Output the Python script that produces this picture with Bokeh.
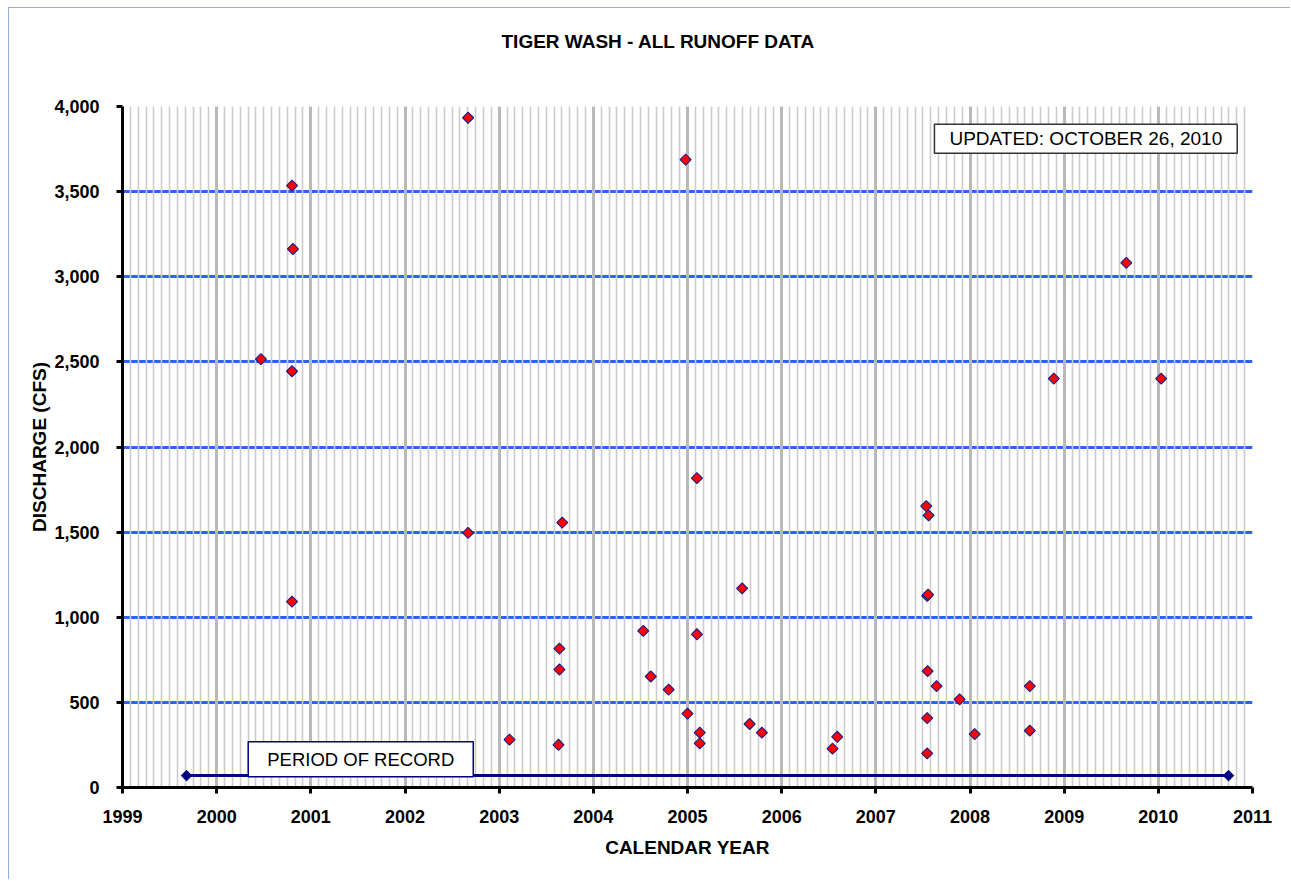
import math
from bokeh.plotting import figure
from bokeh.models import (FixedTicker, NumeralTickFormatter, PrintfTickFormatter, Label,
                          Range1d, Title)
from bokeh.embed import file_html
from bokeh.resources import INLINE

# ---------------- data ----------------
title_text = "TIGER WASH - ALL RUNOFF DATA"
x_label = "CALENDAR YEAR"
y_label = "DISCHARGE (CFS)"
updated_text = "UPDATED: OCTOBER 26, 2010"
period_text = "PERIOD OF RECORD"

year_ticks = list(range(1999, 2012))
discharge_ticks = list(range(0, 4001, 500))

# runoff events (decimal calendar year, discharge cfs)
event_year = [2000.47, 2000.80, 2000.81, 2000.80, 2000.80,
              2002.67, 2002.67, 2003.11, 2003.64, 2003.64,
              2003.63, 2003.67, 2004.53, 2004.61, 2004.80,
              2004.98, 2005.00, 2005.10, 2005.10, 2005.13,
              2005.13, 2005.58, 2005.66, 2005.79, 2006.54,
              2006.59, 2007.535, 2007.56, 2007.545, 2007.555,
              2007.55, 2007.645, 2007.545, 2007.545, 2007.89,
              2008.05, 2008.635, 2008.635, 2008.89, 2009.66,
              2010.03]
event_cfs = [2516, 3535, 3163, 2445, 1092,
             3934, 1496, 281, 816, 693,
             251, 1556, 920, 652, 575,
             3688, 434, 1817, 900, 322,
             259, 1170, 373, 322, 228,
             298, 1653, 1598, 1125, 1133,
             683, 596, 408, 200, 518,
             314, 596, 334, 2402, 3082,
             2402]

period_year = [1999.68, 2010.745]
period_cfs = [70, 70]

FONT = "Liberation Sans"

p = figure(width=1282, height=872,
           x_range=Range1d(1999, 2011), y_range=Range1d(0, 4000),
           output_backend="svg", toolbar_location=None, tools="",
           min_border_left=114, min_border_right=38,
           min_border_top=99, min_border_bottom=92,
           background_fill_color="white", border_fill_color="white",
           outline_line_color=None,
           styles={"margin-left": "8px", "margin-top": "7px",
                   "outline": "2px solid #6a96d4", "outline-offset": "-2px"})

# ---------------- title (spacer panel next to the frame, title above it) ----------------
p.title.text = ""
p.add_layout(Title(text=" ", text_font_size="10px", standoff=40), "above")
p.add_layout(Title(text=title_text, align="left", offset=379, vertical_align="top",
                   standoff=0, text_font=FONT, text_font_style="bold",
                   text_font_size="19px", text_color="black"), "above")

# ---------------- axes ----------------
month_ticks = [year_ticks[0] + m / 12.0 for m in range(0, 12 * (len(year_ticks) - 1) + 1)]
p.xaxis.ticker = FixedTicker(ticks=year_ticks, minor_ticks=month_ticks)
p.xaxis.formatter = PrintfTickFormatter(format="%d")
p.yaxis.ticker = FixedTicker(ticks=discharge_ticks)
p.yaxis.formatter = NumeralTickFormatter(format="0,0")

for ax in (p.xaxis[0], p.yaxis[0]):
    ax.axis_line_color = "black"
    ax.axis_line_width = 3
    ax.major_tick_line_color = "black"
    ax.major_tick_line_width = 3
    ax.major_tick_in = 0
    ax.major_tick_out = 6
    ax.minor_tick_line_color = None
    ax.major_label_text_font = FONT
    ax.major_label_text_font_style = "bold"
    ax.major_label_text_font_size = "18px"
    ax.major_label_text_color = "black"
    ax.axis_label_text_font = FONT
    ax.axis_label_text_font_style = "bold"
    ax.axis_label_text_font_size = "19px"
    ax.axis_label_text_color = "black"

p.xaxis.axis_label = x_label
p.yaxis.axis_label = y_label
p.xaxis.major_label_standoff = 16
p.yaxis.major_label_standoff = 17
p.xaxis.axis_label_standoff = 11
p.yaxis.axis_label_standoff = 1

# ---------------- grids ----------------
xg = p.xgrid[0]
yg = p.ygrid[0]
xg.ticker = FixedTicker(ticks=year_ticks, minor_ticks=month_ticks)
xg.grid_line_color = "#b9b9b9"
xg.grid_line_width = 3
xg.minor_grid_line_color = "#cccccc"
xg.minor_grid_line_width = 1.6
yg.ticker = FixedTicker(ticks=discharge_ticks)
yg.grid_line_color = "#2f62f8"
yg.grid_line_width = 2.8
# vertical lines drawn over the horizontal ones
p.center = [yg, xg]

# ---------------- period of record ----------------
p.line(period_year, period_cfs, line_color="#000080", line_width=3)
p.scatter(period_year, period_cfs, marker="square", angle=math.pi / 4, size=7.5,
          fill_color="#000080", line_color="#000080", line_width=1)

# ---------------- events ----------------
p.scatter(event_year, event_cfs, marker="square", angle=math.pi / 4, size=7.8,
          fill_color="#ff0000", line_color="#1b1b8a", line_width=1.1)

# ---------------- labels ----------------
# padding order here: (left, right, top, bottom)
p.add_layout(Label(x=2009.23, y=3811, text=updated_text,
                   text_align="center", text_baseline="middle",
                   text_font=FONT, text_font_size="19px", text_color="black",
                   background_fill_color="white", border_line_color="#333333",
                   border_line_width=1.5, padding=(15, 15, 4, 4)))

p.add_layout(Label(x=2001.53, y=166, text=period_text,
                   text_align="center", text_baseline="middle",
                   text_font=FONT, text_font_size="18.5px", text_color="black",
                   background_fill_color="white", border_line_color="#000080",
                   border_line_width=1.5, padding=(19, 19, 7, 7)))

open("out.html", "w").write(file_html(p, INLINE))
